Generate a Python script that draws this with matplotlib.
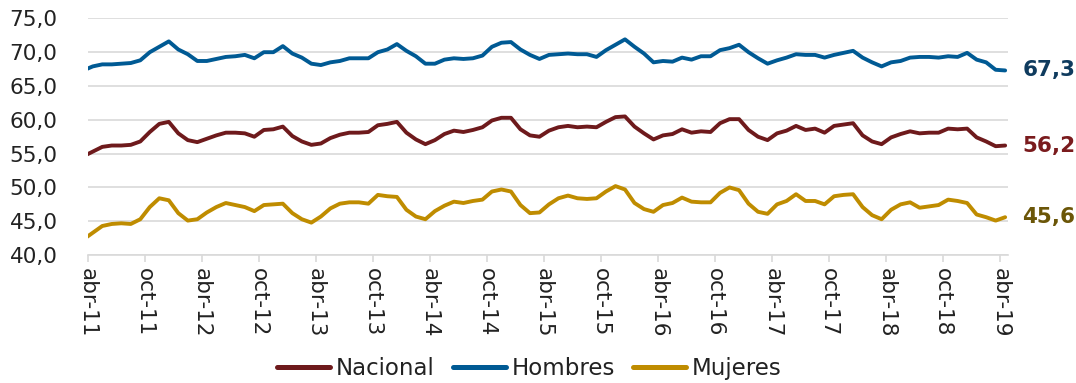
import matplotlib.pyplot as plt
from matplotlib.ticker import FixedLocator

# monthly series, mar-11 .. abr-19 (mar-11 only feeds the clipped lead-in segment)
nacional = [
    54.6, 55.3, 56.0, 56.2, 56.2, 56.3, 56.8, 58.2, 59.4, 59.7, 58.0,
    57.0, 56.7, 57.2, 57.7, 58.1, 58.1, 58.0, 57.5, 58.5, 58.6, 59.0,
    57.6, 56.8, 56.3, 56.5, 57.3, 57.8, 58.1, 58.1, 58.2, 59.2, 59.4,
    59.7, 58.1, 57.1, 56.4, 57.0, 57.9, 58.4, 58.2, 58.5, 58.9, 59.9,
    60.3, 60.3, 58.6, 57.7, 57.5, 58.4, 58.9, 59.1, 58.9, 59.0, 58.9,
    59.7, 60.4, 60.5, 59.0, 58.0, 57.1, 57.7, 57.9, 58.6, 58.1, 58.3,
    58.2, 59.5, 60.1, 60.1, 58.5, 57.5, 57.0, 58.0, 58.4, 59.1, 58.5,
    58.7, 58.1, 59.1, 59.3, 59.5, 57.7, 56.8, 56.4, 57.4, 57.9, 58.3,
    58.0, 58.1, 58.1, 58.7, 58.6, 58.7, 57.4, 56.8, 56.1, 56.2,
]
hombres = [
    67.3, 67.9, 68.2, 68.2, 68.3, 68.4, 68.8, 70.0, 70.8, 71.6, 70.4,
    69.7, 68.7, 68.7, 69.0, 69.3, 69.4, 69.6, 69.1, 70.0, 70.0, 70.9,
    69.8, 69.2, 68.3, 68.1, 68.5, 68.7, 69.1, 69.1, 69.1, 70.0, 70.4,
    71.2, 70.2, 69.4, 68.3, 68.3, 68.9, 69.1, 69.0, 69.1, 69.5, 70.8,
    71.4, 71.5, 70.4, 69.6, 69.0, 69.6, 69.7, 69.8, 69.7, 69.7, 69.3,
    70.3, 71.1, 71.9, 70.8, 69.8, 68.5, 68.7, 68.6, 69.2, 68.9, 69.4,
    69.4, 70.3, 70.6, 71.1, 70.0, 69.1, 68.3, 68.8, 69.2, 69.7, 69.6,
    69.6, 69.2, 69.6, 69.9, 70.2, 69.2, 68.5, 67.9, 68.5, 68.7, 69.2,
    69.3, 69.3, 69.2, 69.4, 69.3, 69.9, 68.9, 68.5, 67.4, 67.3,
]
mujeres = [
    42.3, 43.3, 44.3, 44.6, 44.7, 44.6, 45.3, 47.1, 48.4, 48.1, 46.2,
    45.1, 45.3, 46.3, 47.1, 47.7, 47.4, 47.1, 46.5, 47.4, 47.5, 47.6,
    46.2, 45.3, 44.8, 45.7, 46.9, 47.6, 47.8, 47.8, 47.6, 48.9, 48.7,
    48.6, 46.7, 45.7, 45.3, 46.5, 47.3, 47.9, 47.7, 48.0, 48.2, 49.4,
    49.7, 49.4, 47.4, 46.2, 46.3, 47.5, 48.4, 48.8, 48.4, 48.3, 48.4,
    49.4, 50.2, 49.7, 47.7, 46.8, 46.4, 47.4, 47.7, 48.5, 47.9, 47.8,
    47.8, 49.2, 50.0, 49.6, 47.6, 46.4, 46.1, 47.5, 48.0, 49.0, 48.0,
    48.0, 47.5, 48.7, 48.9, 49.0, 47.1, 45.9, 45.3, 46.7, 47.5, 47.8,
    47.0, 47.2, 47.4, 48.2, 48.0, 47.7, 46.0, 45.6, 45.1, 45.6,
]
tick_labels = ["abr-11", "oct-11", "abr-12", "oct-12", "abr-13", "oct-13",
               "abr-14", "oct-14", "abr-15", "oct-15", "abr-16", "oct-16",
               "abr-17", "oct-17", "abr-18", "oct-18", "abr-19"]
y_ticks = [40, 45, 50, 55, 60, 65, 70, 75]

# points sit mid-month; month 0 (abr-11) starts at x = 0
x = [i - 0.5 for i in range(len(nacional))]

series = [
    ("Nacional", nacional, "#6e1a1c", "#7a1b1d"),
    ("Hombres", hombres, "#005a94", "#0f3b5e"),
    ("Mujeres", mujeres, "#bf8c00", "#6b5608"),
]

plt.rcParams["font.family"] = "DejaVu Sans"
fig = plt.figure(figsize=(10.76, 3.83), dpi=100)
ax = fig.add_axes([0.0818, 0.334, 0.855, 0.618])

for name, vals, color, _ in series:
    ax.plot(x, vals, color=color, lw=2.8, label=name,
            solid_joinstyle="round", solid_capstyle="round")

for name, vals, _, lab_color in series:
    ax.text(98.3, vals[-1], f"{vals[-1]:.1f}".replace(".", ","),
            color=lab_color, fontsize=15.5, fontweight="bold",
            ha="left", va="center", clip_on=False)

ax.set_xlim(0, 96.8)
ax.set_ylim(40, 75)
ax.set_yticks(y_ticks)
ax.set_yticklabels([f"{v:.1f}".replace(".", ",") for v in y_ticks])
ax.xaxis.set_major_locator(FixedLocator(range(0, 97, 6)))
ax.set_xticklabels(tick_labels, rotation=-90)

ax.grid(axis="y", color="#d9d9d9", lw=1.2)
ax.set_axisbelow(True)
for side in ["top", "right", "left"]:
    ax.spines[side].set_visible(False)
ax.spines["bottom"].set_color("#d9d9d9")
ax.spines["bottom"].set_linewidth(1.2)
ax.tick_params(axis="y", length=0, pad=22, labelsize=15.5, labelcolor="#222222")
ax.tick_params(axis="x", length=5, width=1.2, color="#d9d9d9", pad=4,
               labelsize=15.5, labelcolor="#222222")

leg = fig.legend(loc="center", bbox_to_anchor=(0.492, 0.038), ncol=3,
                 frameon=False, fontsize=16.5, handlelength=2.3,
                 handletextpad=0.25, columnspacing=0.8, labelcolor="#222222")
for line in leg.get_lines():
    line.set_linewidth(3.6)

fig.savefig("out.png", dpi=100)
